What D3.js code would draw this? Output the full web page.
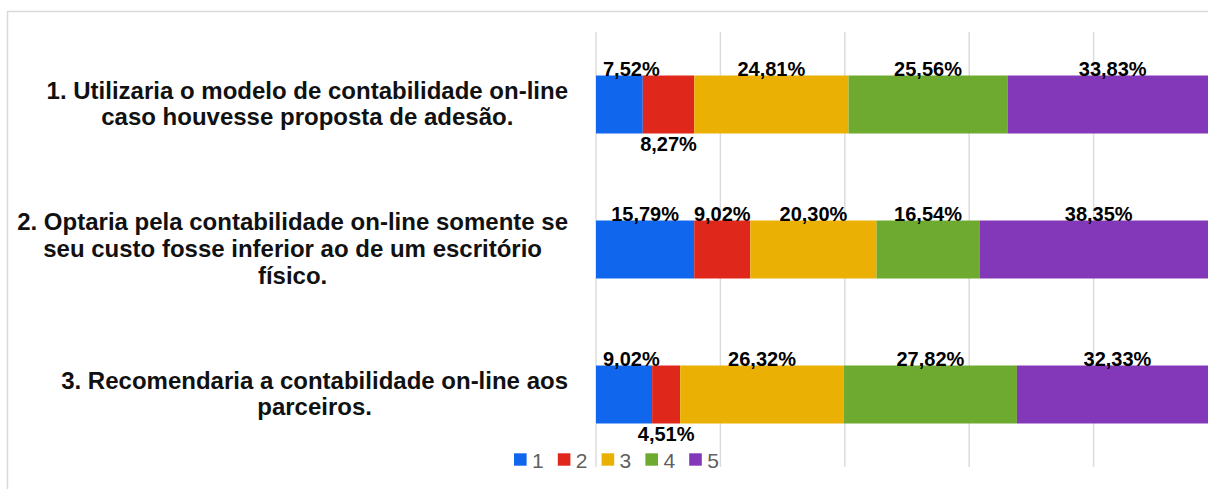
<!DOCTYPE html>
<html>
<head>
<meta charset="utf-8">
<script src="https://cdn.jsdelivr.net/npm/d3@7"></script>
<style>
  html, body { margin: 0; padding: 0; background: #ffffff; }
  svg { display: block; font-family: "Liberation Sans", Arial, sans-serif; }
</style>
</head>
<body>
<svg id="chart" width="1208" height="489"></svg>
<script>
// ---- data ----
const categories = [
  "1. Utilizaria o modelo de contabilidade on-line\ncaso houvesse proposta de adesão.",
  "2. Optaria pela contabilidade on-line somente se\nseu custo fosse inferior ao de um escritório\nfísico.",
  "3. Recomendaria a contabilidade on-line aos\nparceiros."
];
const seriesNames = ["1", "2", "3", "4", "5"];
const series1 = [7.52, 15.79, 9.02];
const series2 = [8.27, 9.02, 4.51];
const series3 = [24.81, 20.30, 26.32];
const series4 = [25.56, 16.54, 27.82];
const series5 = [33.83, 38.35, 32.33];
const gridTicks = [0, 20, 40, 60, 80, 100];
const colors = ["#1166ee", "#e0271b", "#eab104", "#6eaa2f", "#8338b9"];

// ---- build table ----
const allSeries = [series1, series2, series3, series4, series5];
const table = categories.map((c, i) => {
  const row = { category: c };
  seriesNames.forEach((s, j) => { row[s] = allSeries[j][i]; });
  return row;
});

const svg = d3.select("#chart");
const W = 1208, H = 489;

// frame
svg.append("path")
  .attr("d", `M7.5,${H} V11.5 H${W}`)
  .attr("fill", "none")
  .attr("stroke", "#d9d9d9")
  .attr("stroke-width", 1.5);

const x = d3.scaleLinear().domain([0, 100]).range([596, 1218]);
const y = d3.scaleBand().domain(categories).range([32, 467])
  .paddingInner(0.6).paddingOuter(0.3);
const color = d3.scaleOrdinal().domain(seriesNames).range(colors);

// gridlines
svg.append("g").selectAll("line").data(gridTicks).join("line")
  .attr("x1", d => x(d)).attr("x2", d => x(d))
  .attr("y1", 32).attr("y2", 467)
  .attr("stroke", "#dcdcdc").attr("stroke-width", 1.5);

// stacked bars
const stacked = d3.stack().keys(seriesNames)(table);
const layers = svg.append("g").selectAll("g").data(stacked).join("g")
  .attr("fill", d => color(d.key));
layers.selectAll("rect").data(d => d).join("rect")
  .attr("x", d => x(d[0]))
  .attr("y", d => y(d.data.category))
  .attr("width", d => x(d[1]) - x(d[0]))
  .attr("height", y.bandwidth());

// data labels
const fmt = v => v.toFixed(2).replace(".", ",") + "%";
const labelG = svg.append("g");
table.forEach((row, i) => {
  let prevRight = -Infinity;
  const y0 = y(row.category), y1 = y0 + y.bandwidth();
  stacked.forEach((layer, j) => {
    const d = layer[i];
    const x0 = x(d[0]), x1 = x(d[1]);
    let cx = (x0 + x1) / 2;
    const t = labelG.append("text")
      .attr("text-anchor", "middle")
      .attr("font-size", 20)
      .attr("font-weight", "bold")
      .attr("fill", "#000")
      .text(fmt(row[layer.key]));
    const w = t.node().getComputedTextLength();
    let left = cx - w / 2;
    if (j === 0 && left < x0 + 7) { left = x0 + 7; cx = left + w / 2; }
    let ty;
    if (left < prevRight + 2) {
      ty = y1 + 17.5;
    } else {
      ty = y0 + 0.8;
      prevRight = left + w;
    }
    t.attr("x", cx).attr("y", ty);
  });
});

// category labels
const catG = svg.append("g");
categories.forEach(c => {
  const lines = c.split("\n");
  const cy = y(c) + y.bandwidth() / 2;
  const t = catG.append("text")
    .attr("text-anchor", "middle")
    .attr("font-size", 24)
    .attr("font-weight", "bold")
    .attr("fill", "#111");
  const spans = lines.map((ln, k) => t.append("tspan")
    .attr("x", 0)
    .attr("y", (k - (lines.length - 1) / 2) * 26.8 + 7.5)
    .text(ln));
  const maxW = d3.max(spans, s => s.node().getComputedTextLength());
  const cx = 568 - maxW / 2;
  t.attr("transform", `translate(${cx},${cy})`);
});

// legend
const legend = svg.append("g");
seriesNames.forEach((s, i) => {
  const lx = 514 + i * 43.8;
  legend.append("rect")
    .attr("x", lx).attr("y", 453.3)
    .attr("width", 12.6).attr("height", 12.4)
    .attr("fill", color(s));
  legend.append("text")
    .attr("x", lx + 18).attr("y", 468.3)
    .attr("font-size", 21)
    .attr("fill", "#5f5f5f")
    .text(s);
});
</script>
</body>
</html>
